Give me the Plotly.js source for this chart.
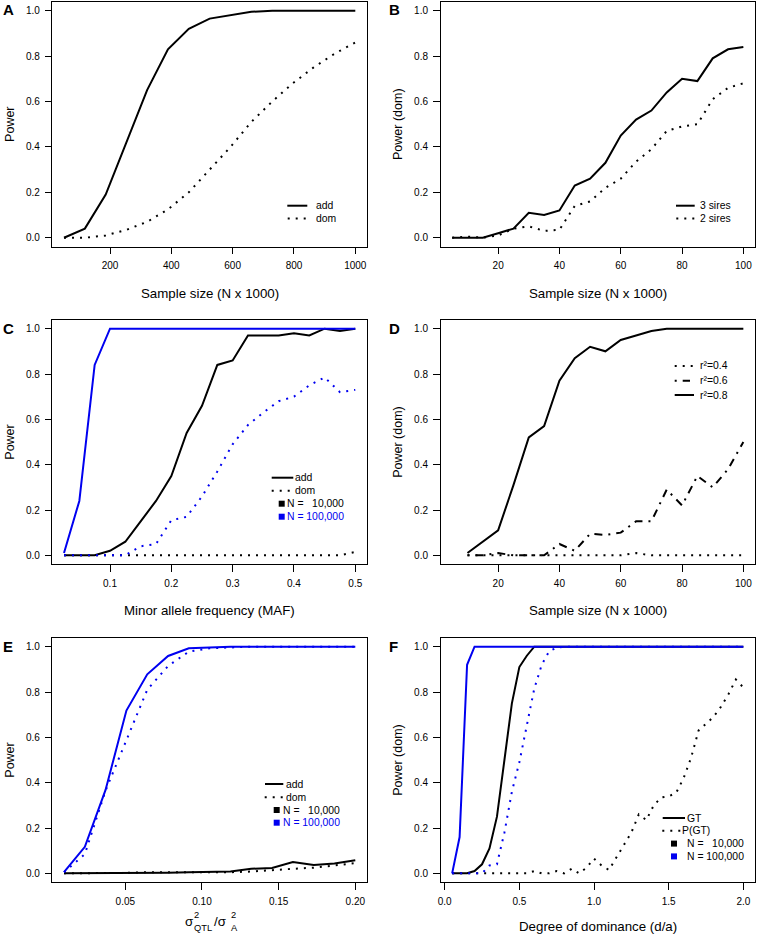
<!DOCTYPE html>
<html>
<head>
<meta charset="utf-8">
<script src="https://cdn.plot.ly/plotly-3.0.1.min.js"></script>
<style>html,body{margin:0;padding:0;background:#fff;}#chart{width:757px;height:936px;}</style>
</head>
<body>
<div id="chart"></div>
<script>
// ---------- data ----------
// Panel A
const A_x   = [50,118,186,254,321,389,457,525,593,661,729,796,864,932,1000];
const A_add = [0,0.04,0.19,0.42,0.65,0.83,0.92,0.965,0.98,0.995,1,1,1,1,1];
const A_dom = [0,0,0.01,0.035,0.07,0.125,0.20,0.30,0.40,0.51,0.60,0.68,0.75,0.81,0.86];
// Panel B
const B_x  = [5,10,15,20,25,30,35,40,45,50,55,60,65,70,75,80,85,90,95,100];
const B_3s = [0,0,0,0.02,0.04,0.11,0.10,0.12,0.23,0.26,0.33,0.45,0.52,0.56,0.64,0.70,0.69,0.79,0.83,0.84];
const B_2s = [0,0.005,0,0.01,0.04,0.05,0.03,0.035,0.14,0.16,0.22,0.26,0.335,0.39,0.47,0.49,0.50,0.61,0.66,0.68];
// Panel C
const C_x      = [0.025,0.05,0.075,0.1,0.125,0.15,0.175,0.2,0.225,0.25,0.275,0.3,0.325,0.35,0.375,0.4,0.425,0.45,0.475,0.5];
const C_add10  = [0,0,0,0.02,0.06,0.15,0.24,0.35,0.54,0.66,0.84,0.86,0.97,0.97,0.97,0.98,0.97,1.0,0.99,1.0];
const C_dom10  = [0,0,0,0,0,0,0,0,0,0,0,0,0,0,0,0,0,0,0,0.015];
const C_add100 = [0.01,0.24,0.84,1,1,1,1,1,1,1,1,1,1,1,1,1,1,1,1,1];
const C_dom100 = [0,0,0,0,0,0.04,0.05,0.155,0.17,0.26,0.37,0.49,0.575,0.63,0.68,0.70,0.75,0.785,0.72,0.73];
// Panel D
const D_x   = [10,15,20,25,30,35,40,45,50,55,60,65,70,75,80,85,90,95,100];
const D_r04 = [0,0,0,0,0,0,0,0,0,0,0,0.01,0,0,0,0,0,0,0];
const D_r06 = [0,0,0.01,0,0,0,0.05,0.02,0.095,0.09,0.10,0.15,0.15,0.29,0.22,0.35,0.30,0.38,0.50];
const D_r08 = [0.01,0.06,0.11,0.31,0.52,0.57,0.77,0.87,0.92,0.90,0.95,0.97,0.99,1,1,1,1,1,1];
// Panel E
const E_x      = [0.01,0.0236,0.0371,0.0507,0.0643,0.0779,0.0914,0.105,0.1186,0.1321,0.1457,0.1593,0.1729,0.1864,0.2];
const E_add10  = [0,0,0,0.001,0.003,0.003,0.005,0.006,0.008,0.02,0.024,0.05,0.037,0.043,0.058];
const E_dom10  = [0,0,0,0.002,0.005,0.005,0.004,0.003,0.005,0.008,0.015,0.02,0.025,0.035,0.045];
const E_add100 = [0.005,0.117,0.368,0.718,0.878,0.959,0.993,0.998,1,1,1,1,1,1,1];
const E_dom100 = [0.005,0.085,0.365,0.585,0.81,0.915,0.978,0.993,0.998,1,1,1,1,1,1];
// Panel F
const F_x = [0.05,0.1,0.15,0.2,0.25,0.3,0.35,0.4,0.45,0.5,0.55,0.6,0.65,0.7,0.75,0.8,0.85,0.9,0.95,1.0,
             1.05,1.1,1.15,1.2,1.25,1.3,1.35,1.4,1.45,1.5,1.55,1.6,1.65,1.7,1.75,1.8,1.85,1.9,1.95,2.0];
const F_gt10  = [0,0,0,0.01,0.04,0.11,0.25,0.50,0.75,0.91,0.96,1,1,1,1,1,1,1,1,1,
                 1,1,1,1,1,1,1,1,1,1,1,1,1,1,1,1,1,1,1,1];
const F_pgt10 = [0,0,0,0,0,0,0,0,0,0,0,0.01,0,0,0.01,0,0.02,0,0.025,0.065,
                 0.035,0.015,0.07,0.125,0.18,0.26,0.235,0.30,0.335,0.34,0.355,0.42,0.51,0.63,0.66,0.69,0.735,0.79,0.855,0.82];
const F_gt100 = [0,0.16,0.92,1,1,1,1,1,1,1,1,1,1,1,1,1,1,1,1,1,
                 1,1,1,1,1,1,1,1,1,1,1,1,1,1,1,1,1,1,1,1];
const F_pgt100= [0,0,0,0,0,0.035,0.04,0.18,0.36,0.49,0.645,0.815,0.92,0.98,0.995,1,1,1,1,1,
                 1,1,1,1,1,1,1,1,1,1,1,1,1,1,1,1,1,1,1,1];

const Y_ticks = [0,0.2,0.4,0.6,0.8,1.0];
const A_ticks = [200,400,600,800,1000];
const B_ticks = [20,40,60,80,100];
const C_ticks = [0.1,0.2,0.3,0.4,0.5];
const E_ticks = [0.05,0.10,0.15,0.20];
const F_ticks = [0.0,0.5,1.0,1.5,2.0];

// ---------- styling ----------
const W = 757, H = 936;
const FONT = 'Liberation Sans, Arial, Helvetica, sans-serif';
const BLACK = '#000000', BLUE = '#0000F0';
const DOT = '2px,6px', DASHDOT = '2px,6px,8px,6px';
const px = x => x / W;
const py = y => 1 - y / H;

const col1 = [52.35/W, 366.95/W];
const col2 = [440.5/W, 755/W];
const row1 = [py(246.8), py(1.6)];
const row2 = [py(564.4), py(319.6)];
const row3 = [py(882.4), py(637.6)];

function xax(domain, range, tickvals, fmt, anchor) {
  return {domain, range, tickmode:'array', tickvals, tickformat:fmt, anchor,
    showline:true, mirror:true, linecolor:BLACK, linewidth:1,
    ticks:'outside', ticklen:6.5, tickwidth:1, tickcolor:BLACK,
    showgrid:false, zeroline:false, ticklabelstandoff:3,
    tickfont:{size:10, color:BLACK, family:FONT}};
}
function yax(domain, anchor, title) {
  return {domain, range:[-0.04,1.04], tickmode:'array', tickvals:Y_ticks, tickformat:'.1f', anchor,
    showline:true, mirror:true, linecolor:BLACK, linewidth:1,
    ticks:'outside', ticklen:6.5, tickwidth:1, tickcolor:BLACK,
    showgrid:false, zeroline:false, ticklabelstandoff:3,
    tickfont:{size:10, color:BLACK, family:FONT},
    title:{text:title, standoff:8, font:{size:12.5, color:BLACK, family:FONT}}};
}
function tr(x, y, ax, color, dash) {
  return {x, y, xaxis:'x'+ax, yaxis:'y'+ax, type:'scatter', mode:'lines',
    line:{color, width:2, dash: dash || 'solid'}, hoverinfo:'skip', showlegend:false};
}

const data = [
  tr(A_x, A_add, '', BLACK), tr(A_x, A_dom, '', BLACK, DOT),
  tr(B_x, B_3s, '2', BLACK), tr(B_x, B_2s, '2', BLACK, DOT),
  tr(C_x, C_add10, '3', BLACK), tr(C_x, C_dom10, '3', BLACK, DOT),
  tr(C_x, C_add100, '3', BLUE), tr(C_x, C_dom100, '3', BLUE, DOT),
  tr(D_x, D_r04, '4', BLACK, DOT), tr(D_x, D_r06, '4', BLACK, DASHDOT), tr(D_x, D_r08, '4', BLACK),
  tr(E_x, E_add10, '5', BLACK), tr(E_x, E_dom10, '5', BLACK, DOT),
  tr(E_x, E_add100, '5', BLUE), tr(E_x, E_dom100, '5', BLUE, DOT),
  tr(F_x, F_gt10, '6', BLACK), tr(F_x, F_pgt10, '6', BLACK, DOT),
  tr(F_x, F_gt100, '6', BLUE), tr(F_x, F_pgt100, '6', BLUE, DOT)
];

// ---------- annotations & legend shapes ----------
const annotations = [];
const shapes = [];
function ann(text, x, y, o) {
  annotations.push(Object.assign({text, x:px(x), y:py(y), xref:'paper', yref:'paper', showarrow:false,
    xanchor:'left', yanchor:'middle', borderpad:0, borderwidth:0,
    font:{size:10.4, color:BLACK, family:FONT}}, o || {}));
}
function seg(x0, x1, y, dash, color) {
  shapes.push({type:'line', xref:'paper', yref:'paper', x0:px(x0), x1:px(x1), y0:py(y), y1:py(y),
    line:{color: color || BLACK, width:2, dash: dash || 'solid'}});
}
function box(cx, cy, color) {
  shapes.push({type:'rect', xref:'paper', yref:'paper', x0:px(cx-3), x1:px(cx+3), y0:py(cy+3), y1:py(cy-3),
    fillcolor:color, line:{width:0}});
}

// panel letters (bold via font weight)
const bold = {font:{size:15, color:BLACK, family:FONT, weight:700}};
ann('A', 2.5, 10, bold);   ann('B', 389.5, 10, bold);
ann('C', 2.5, 328, bold);  ann('D', 389.5, 328, bold);
ann('E', 2.5, 646.5, bold); ann('F', 389.5, 646.5, bold);

// x-axis titles
const tf = {xanchor:'center', font:{size:13.3, color:BLACK, family:FONT}};
const c1 = (52.35+366.95)/2, c2 = (440.5+755)/2;
ann('Sample size (N x 1000)', c1, 293, tf);
ann('Sample size (N x 1000)', c2, 293, tf);
ann('Minor allele frequency (MAF)', c1, 610, tf);
ann('Sample size (N x 1000)', c2, 610, tf);
ann('Degree of dominance (d/a)', c2, 926, tf);
// E title: sigma^2_QTL / sigma^2_A with stacked scripts
const sg = {xanchor:'left', font:{size:13.3, color:BLACK, family:FONT}};
const sc = {xanchor:'left', font:{size:9.3, color:BLACK, family:FONT}};
ann('σ', 185, 921.5, sg);
ann('2', 194, 914.5, sc);
ann('QTL', 194, 927.5, sc);
ann('/σ', 214.5, 921.5, sg);
ann('2', 230.5, 914.5, sc);
ann('A', 230.5, 927.5, sc);

// legend A
seg(287.3, 307.3, 205.7); ann('add', 316, 205.7);
seg(287.7, 306.3, 218.5, DOT); ann('dom', 316, 218.5);
// legend B
seg(676, 694.7, 205.7); ann('3 sires', 699.7, 205.7);
seg(676.3, 694.9, 218.5, DOT); ann('2 sires', 699.7, 218.5);
// legend C
seg(271.7, 293.3, 477.7); ann('add', 295, 477.7);
seg(271.7, 290.3, 490.7, DOT); ann('dom', 295, 490.7);
box(281.7, 503.7, BLACK); ann('N =\u00A0\u00A0\u00A010,000', 287.3, 503.7);
box(281.7, 516.7, BLUE);  ann('N = 100,000', 287.3, 516.7, {font:{size:10.4, color:BLUE, family:FONT}});
// legend D
seg(674.7, 693.3, 366, DOT); ann('r\u00B2=0.4', 699.7, 366);
seg(674.7, 690, 380.7, DASHDOT); ann('r\u00B2=0.6', 699.7, 380.7);
seg(674.7, 694, 395); ann('r\u00B2=0.8', 699.7, 395);
// legend E
seg(265, 283.3, 784); ann('add', 286, 784);
seg(264.7, 283.3, 797.3, DOT); ann('dom', 286, 797.3);
box(276.7, 810, BLACK); ann('N =\u00A0\u00A0\u00A010,000', 283.3, 810);
box(276.7, 822.7, BLUE); ann('N = 100,000', 283.3, 822.7, {font:{size:10.4, color:BLUE, family:FONT}});
// legend F
seg(662.7, 685, 818); ann('GT', 687.3, 818);
seg(662.3, 680.9, 830.8, DOT); ann('P(GT)', 682, 830.8);
box(674, 843.6, BLACK); ann('N =\u00A0\u00A0\u00A010,000', 687.3, 843.6);
box(674, 856.4, BLUE); ann('N = 100,000', 687.3, 856.4);

const layout = {
  width:W, height:H, margin:{l:0, r:0, t:0, b:0},
  paper_bgcolor:'#ffffff', plot_bgcolor:'#ffffff', showlegend:false,
  font:{family:FONT, color:BLACK},
  xaxis:  xax(col1, [12,1038], A_ticks, 'd', 'y'),
  yaxis:  yax(row1, 'x', 'Power'),
  xaxis2: xax(col2, [1.2,103.8], B_ticks, 'd', 'y2'),
  yaxis2: yax(row1, 'x2', 'Power (dom)'),
  xaxis3: xax(col1, [0.006,0.519], C_ticks, '.1f', 'y3'),
  yaxis3: yax(row2, 'x3', 'Power'),
  xaxis4: xax(col2, [1.2,103.8], B_ticks, 'd', 'y4'),
  yaxis4: yax(row2, 'x4', 'Power (dom)'),
  xaxis5: xax(col1, [0.0024,0.2076], E_ticks, '.2f', 'y5'),
  yaxis5: yax(row3, 'x5', 'Power'),
  xaxis6: xax(col2, [-0.028,2.078], F_ticks, '.1f', 'y6'),
  yaxis6: yax(row3, 'x6', 'Power (dom)'),
  annotations, shapes
};

Plotly.newPlot('chart', data, layout, {displayModeBar:false, staticPlot:true});
</script>
</body>
</html>
